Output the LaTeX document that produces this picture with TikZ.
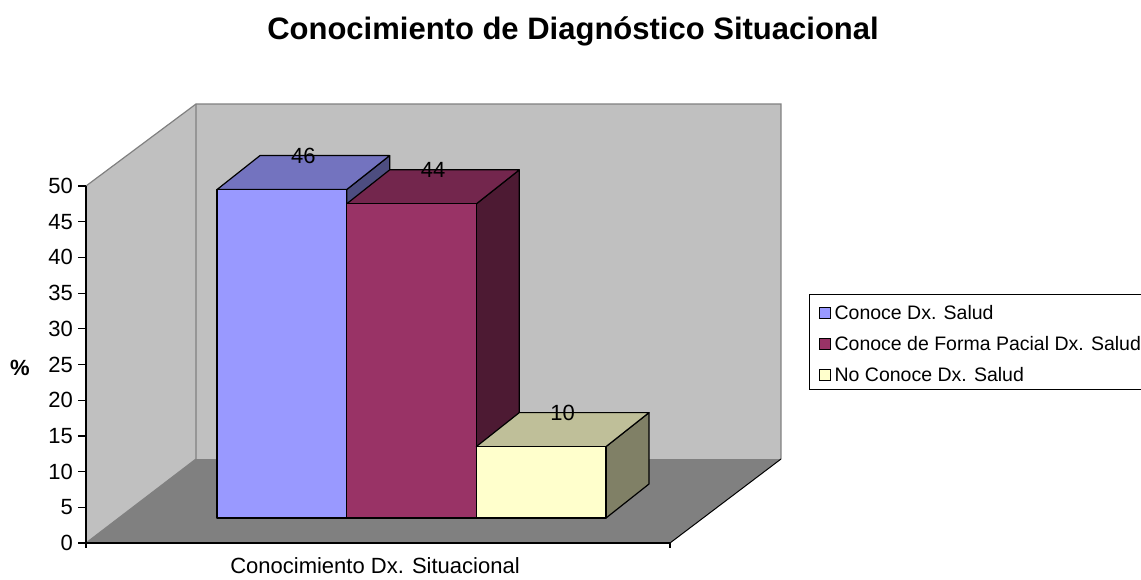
\documentclass[tikz,border=0pt]{standalone}
\usepackage{fontspec}
\setmainfont{Liberation Sans}
\usetikzlibrary{positioning}

\definecolor{wallgray}{HTML}{C0C0C0}
\definecolor{floorgray}{HTML}{808080}
\definecolor{barA}{HTML}{9999FF}
\definecolor{barAtop}{HTML}{7373BF}
\definecolor{barAside}{HTML}{4D4D80}
\definecolor{barB}{HTML}{993366}
\definecolor{barBtop}{HTML}{73264D}
\definecolor{barBside}{HTML}{4D1A33}
\definecolor{barC}{HTML}{FFFFCC}
\definecolor{barCtop}{HTML}{BFBF99}
\definecolor{barCside}{HTML}{808066}

\begin{document}
\begin{tikzpicture}[x=1pt,y=-1pt,
		wallline/.style={draw=floorgray,line width=1.2pt},
		barface/.style={draw=black,line width=1.2pt,line join=round},
		ticklab/.style={anchor=east,inner sep=0pt,font=\fontsize{22}{24}\selectfont},
		vallab/.style={inner sep=0pt,font=\fontsize{22}{24}\selectfont},
		keybox/.style={draw=black,line width=0.8pt,minimum size=11pt,inner sep=0pt},
		keylab/.style={inner sep=0pt,anchor=west,font=\fontsize{19.5}{22}\selectfont}]
		
		\useasboundingbox (0,0) rectangle (1141,580);
		
		% Define corners
		\coordinate (o)   at (86,543);
		\coordinate (top) at (86,186);
		\coordinate (xe)  at (670,543);
		\coordinate (bl)  at (196,459);
		\coordinate (br)  at (781,459);
		\coordinate (tl)  at (196,104);
		\coordinate (tr)  at (781,104);
		
		% Walls and floor
		\fill[wallgray] (top) -- (tl) -- (bl) -- (o) -- cycle;
		\fill[wallgray] (tl) -- (tr) -- (br) -- (bl) -- cycle;
		\fill[floorgray] (o) -- (bl) -- (br) -- (xe) -- cycle;
		\draw[wallline] (top) -- (tl) -- (tr) -- (br);
		\draw[wallline] (tl) -- (bl) -- (o);
		\draw[black,line width=1pt] (xe) -- (br);
		
		% Axes
		\draw[black,line width=1.2pt] (top) -- (o) -- (xe);
		\draw[black,line width=1.2pt] (o) -- ++(0,5);
		\draw[black,line width=1.2pt] (xe) -- ++(0,5);
		\foreach \v in {0,5,...,50} {
			\draw[black,line width=1.2pt] (78,{543-\v*7.14}) -- (86,{543-\v*7.14});
			\node[ticklab] (tick\v) at (73,{543-\v*7.14}) {\v};
		}
		\node[font=\bfseries\fontsize{22}{24}\selectfont] (ylab) at (20,368) {\%};
		\node[font=\fontsize{22}{24}\selectfont] (xlab) at (375,566) {Conocimiento Dx. Situacional};
		
		% Bars
		\foreach \v/\col [count=\i from 0] in {46/A,44/B,10/C} {
			\pgfmathsetmacro{\xl}{217+\i*129.67}
			\pgfmathsetmacro{\xr}{\xl+129.67}
			\pgfmathsetmacro{\yt}{518-\v*7.14}
			\draw[barface,fill=bar\col side] (\xr,518) -- ({\xr+43},484) -- ({\xr+43},{\yt-34}) -- (\xr,\yt) -- cycle;
			\draw[barface,fill=bar\col top] (\xl,\yt) -- ({\xl+43},{\yt-34}) -- ({\xr+43},{\yt-34}) -- (\xr,\yt) -- cycle;
			\draw[barface,fill=bar\col] (\xl,518) rectangle (\xr,\yt);
			\node[vallab] (val\i) at ({(\xl+\xr)/2+21.5},{\yt-34}) {\v};
		}
		
		% Title
		\node[font=\bfseries\fontsize{31}{34}\selectfont] (title) at (573,31) {Conocimiento de Diagnóstico Situacional};
		
		% Legend
		\draw[black,line width=1pt] (809,294) rectangle (1145,389);
		\foreach \col/\txt [count=\j from 0] in {A/Conoce Dx. Salud,B/Conoce de Forma Pacial Dx. Salud,C/No Conoce Dx. Salud} {
			\node[keybox,fill=bar\col] (key\j) at (825,{313+\j*31}) {};
			\node[keylab,right=3.5pt of key\j] (lab\j) {\txt};
		}
		
\end{tikzpicture}
\end{document}
